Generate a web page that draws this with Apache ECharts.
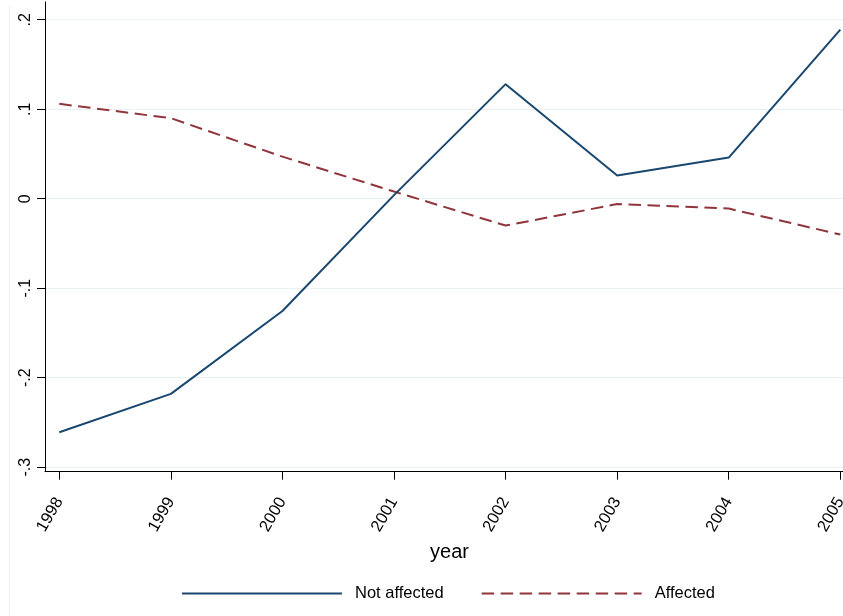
<!DOCTYPE html>
<html>
<head>
<meta charset="utf-8">
<script src="https://cdn.jsdelivr.net/npm/echarts@6/dist/echarts.min.js"></script>
<style>
  html, body { margin: 0; padding: 0; background: #fff; }
  #chart { width: 843px; height: 616px; }
</style>
</head>
<body>
<div id="chart"></div>
<script>
// Yearly values for the two groups
const years = [1998, 1999, 2000, 2001, 2002, 2003, 2004, 2005];
const notAffected = [-0.261, -0.218, -0.1255, 0.004, 0.128, 0.026, 0.046, 0.189];
const affected = [0.106, 0.090, 0.047, 0.008, -0.030, -0.006, -0.011, -0.040];
const yTicks = [-0.3, -0.2, -0.1, 0, 0.1, 0.2];
const yTickLabels = ['-.3', '-.2', '-.1', '0', '.1', '.2'];

const FONT = 'Liberation Sans, Arial, Helvetica, sans-serif';
const BLUE = '#1a476f';
const RED = '#90353b';
const GRID = '#eaf1f3';

const chart = echarts.init(document.getElementById('chart'), null, { renderer: 'canvas' });

const pairs = arr => years.map((y, i) => [y, arr[i]]);

chart.setOption({
  animation: false,
  backgroundColor: '#ffffff',
  textStyle: { fontFamily: FONT, color: '#000' },
  grid: {
    left: 45, right: 0, top: 2, bottom: 144.3,
    containLabel: false,
    outerBoundsMode: 'none'
  },
  graphic: [{
    type: 'line',
    silent: true,
    shape: { x1: 9.5, y1: 6, x2: 9.5, y2: 616 },
    style: { stroke: '#edf2f4', lineWidth: 1 }
  }],
  xAxis: {
    type: 'value',
    min: 1997.872,
    max: 2005.024,
    name: 'year',
    nameLocation: 'middle',
    nameGap: 68,
    nameTextStyle: { fontFamily: FONT, fontSize: 20, color: '#000', padding: [0, 0, 0, 11] },
    axisLine: { show: true, onZero: false, lineStyle: { color: '#000', width: 1 } },
    axisTick: { show: true, length: 8, lineStyle: { color: '#000', width: 1 }, customValues: years },
    axisLabel: {
      show: true, rotate: 60, margin: 27,
      fontFamily: FONT, fontSize: 16.5, color: '#000',
      padding: [8, 0, 0, 0],
      customValues: years,
      formatter: v => String(Math.round(v))
    },
    splitLine: { show: false }
  },
  yAxis: {
    type: 'value',
    min: -0.305,
    max: 0.2198,
    axisLine: { show: true, onZero: false, lineStyle: { color: '#000', width: 1 } },
    axisTick: { show: true, length: 8, lineStyle: { color: '#000', width: 1 }, customValues: yTicks },
    axisLabel: {
      show: true, rotate: 90, margin: 11,
      fontFamily: FONT, fontSize: 16, color: '#000',
      customValues: yTicks,
      formatter: v => {
        const i = yTicks.findIndex(t => Math.abs(t - v) < 1e-9);
        return i >= 0 ? yTickLabels[i] : '';
      }
    },
    splitLine: { show: true, lineStyle: { color: GRID, width: 1 } }
  },
  legend: {
    show: true,
    left: 181,
    top: 585,
    padding: 0,
    itemWidth: 160,
    itemHeight: 18,
    itemGap: 37,
    itemStyle: { opacity: 0 },
    lineStyle: { width: 2 },
    formatter: name => '{t|' + name + '}',
    textStyle: {
      fontFamily: FONT, fontSize: 16.5, color: '#000',
      rich: { t: { fontFamily: FONT, fontSize: 16.5, color: '#000', padding: [0, 0, 0, 8] } }
    },
    data: ['Not affected', 'Affected']
  },
  series: [
    {
      name: 'Not affected',
      type: 'line',
      data: pairs(notAffected),
      showSymbol: false,
      symbol: 'none',
      lineStyle: { color: BLUE, width: 2 },
      itemStyle: { color: BLUE },
      z: 3
    },
    {
      name: 'Affected',
      type: 'line',
      data: pairs(affected),
      showSymbol: false,
      symbol: 'none',
      lineStyle: { color: RED, width: 2, type: [12.5, 6.5] },
      itemStyle: { color: RED },
      z: 2
    }
  ]
});
</script>
</body>
</html>
